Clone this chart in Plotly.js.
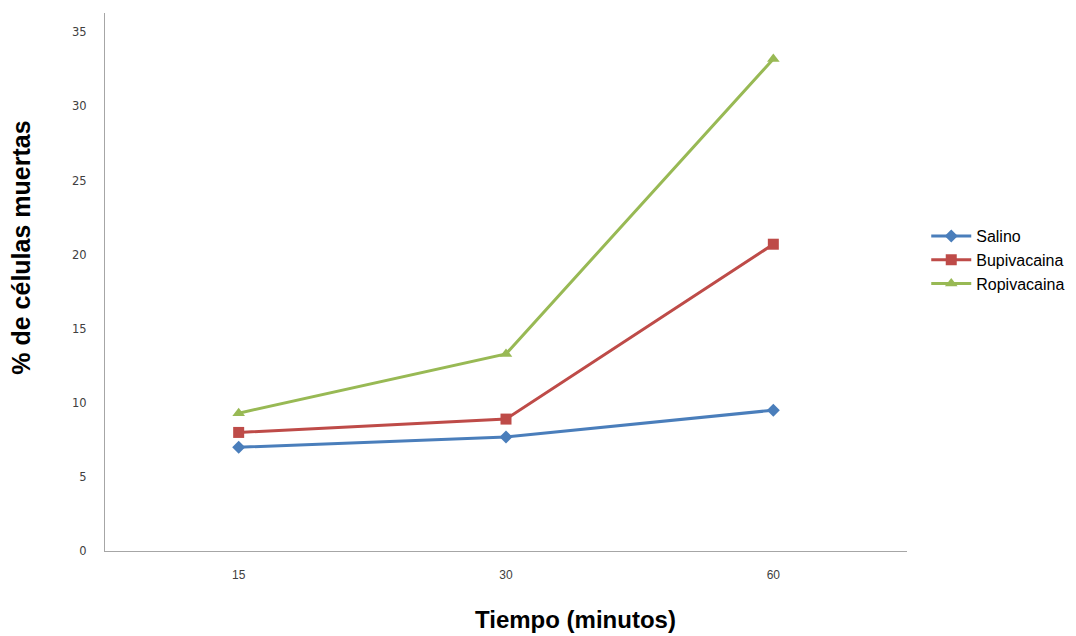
<!DOCTYPE html>
<html><head><meta charset="utf-8">
<script src="https://cdn.plot.ly/plotly-3.0.1.min.js"></script>
<style>body{margin:0;background:#fff}#chart{width:1076px;height:636px}</style>
</head><body><div id="chart"></div>
<script>
const categories = ["15", "30", "60"];
const salino = [7.0, 7.7, 9.5];
const bupivacaina = [8.0, 8.9, 20.7];
const ropivacaina = [9.3, 13.3, 33.2];
const seriesNames = ["Salino", "Bupivacaina", "Ropivacaina"];
const yTicks = [0, 5, 10, 15, 20, 25, 30, 35];
const xTitle = "Tiempo (minutos)";
const yTitle = "% de células muertas";

const colors = ["#4a7ebb", "#be4b48", "#98b954"];
const symbols = ["diamond", "square", "triangle-up"];
const data = [salino, bupivacaina, ropivacaina].map((v, i) => ({
  x: categories, y: v, name: seriesNames[i], type: "scatter", mode: "lines+markers",
  line: {color: colors[i], width: 3},
  marker: {symbol: symbols[i], size: i === 0 ? 10 : 11, color: colors[i]}
}));

const layout = {
  width: 1076, height: 636,
  margin: {l: 105, r: 169, t: 13, b: 85, autoexpand: false},
  paper_bgcolor: "#fff", plot_bgcolor: "#fff",
  font: {family: "Liberation Sans, Arial, sans-serif", color: "#404040"},
  xaxis: {
    type: "category", range: [-0.5, 2.5], showgrid: false, zeroline: false,
    showline: true, linecolor: "#a6a6a6", linewidth: 1, ticks: "",
    tickfont: {size: 12, color: "#404040"}, ticklabelstandoff: 13
  },
  yaxis: {
    range: [0, 36.3], tickvals: yTicks, showgrid: false, zeroline: false,
    showline: true, linecolor: "#a6a6a6", linewidth: 1, ticks: "",
    tickfont: {size: 11.5, color: "#404040", family: "DejaVu Sans, Verdana, sans-serif"}, ticklabelstandoff: 15
  },
  annotations: [
    {text: "<b>" + xTitle + "</b>", xref: "paper", yref: "paper", x: 0.587, y: -0.128,
     xanchor: "center", yanchor: "middle", showarrow: false, font: {size: 24, color: "#000"}},
    {text: "<b>" + yTitle + "</b>", xref: "paper", yref: "paper", x: -0.104, y: 0.563,
     xanchor: "center", yanchor: "middle", textangle: -90, showarrow: false, font: {size: 25, color: "#000"}}
  ],
  legend: {x: 1.024, y: 0.617, xanchor: "left", yanchor: "top",
    font: {size: 16, color: "#000"}, tracegroupgap: 0, itemwidth: 40},
  showlegend: true
};
Plotly.newPlot("chart", data, layout, {displayModeBar: false});
</script></body></html>
